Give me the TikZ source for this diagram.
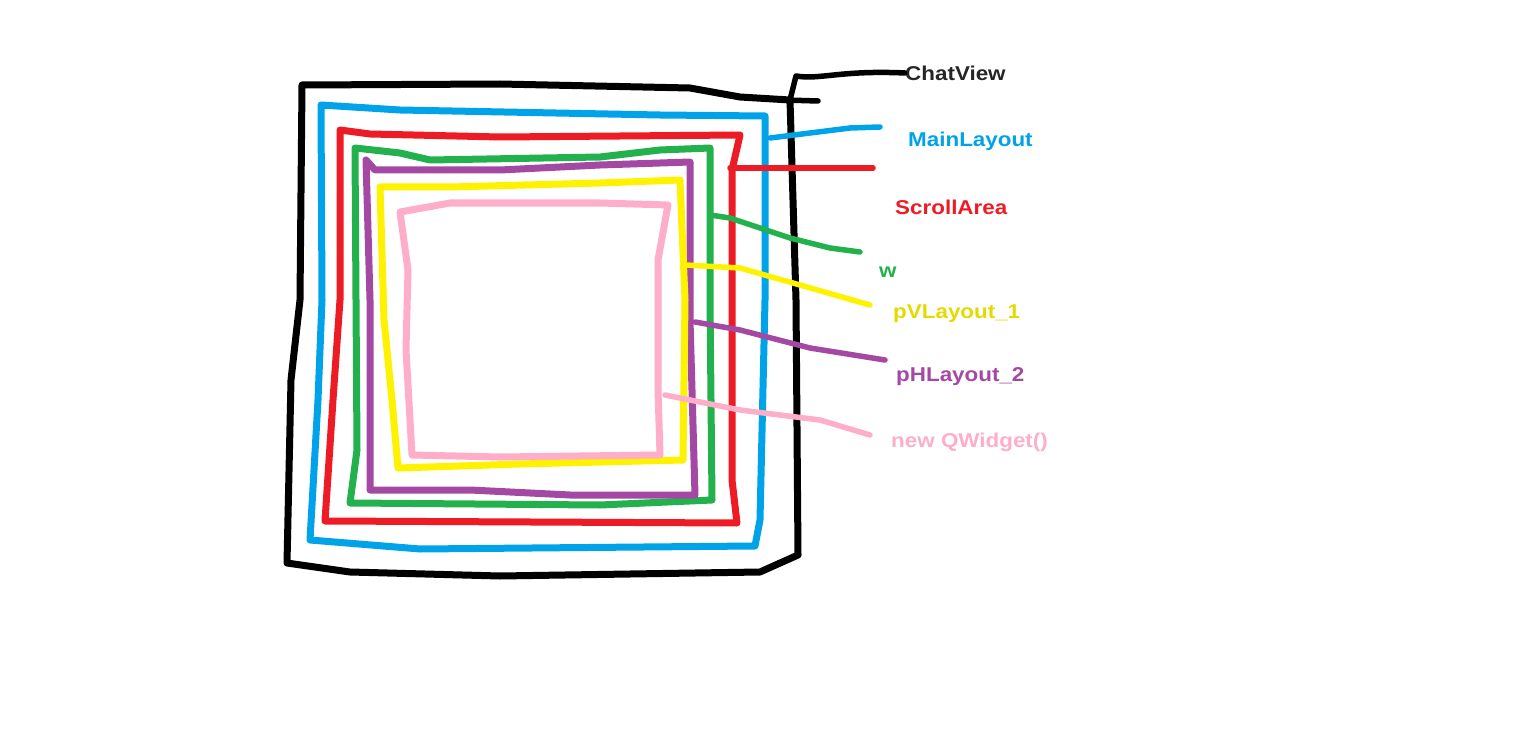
\documentclass[tikz,border=0pt]{standalone}
\usepackage{fontspec}
\setmainfont{Liberation Sans}
\definecolor{cblue}{HTML}{00A2E8}
\definecolor{cred}{HTML}{ED1C24}
\definecolor{cgreen}{HTML}{22B14C}
\definecolor{cpurple}{HTML}{A349A4}
\definecolor{cyellow}{HTML}{FFF200}
\definecolor{cpink}{HTML}{FFAEC9}
\tikzset{pen/.style={line width=7pt,line join=round,line cap=round},
lead/.style={pen,line width=5.5pt},
lab/.style={anchor=west,font=\bfseries\fontsize{20}{22}\selectfont,inner sep=0pt,xscale=1.12}}
\begin{document}
\begin{tikzpicture}[x=1pt,y=-1pt]
\useasboundingbox (0,0) rectangle (1535,749);
% boxes
\draw[pen,black] (302,85) -- (500,84) -- (690,88) -- (740,97) -- (790,100) -- (796,300) -- (798,555) -- (760,572) -- (500,576) -- (350,572) -- (287,563) -- (291,380) -- (300,300) -- (302,85) -- cycle;
\draw[pen,cblue] (321,105) -- (400,110) -- (660,115) -- (765,116) -- (765,300) -- (760,520) -- (755,546) -- (420,549) -- (310,540) -- (318,400) -- (322,300) -- cycle;
\draw[pen,cred] (340,130) -- (370,134) -- (500,137) -- (740,135) -- (732,170) -- (732,480) -- (737,523) -- (325,521) -- (333,400) -- (340,300) -- cycle;
\draw[pen,cgreen] (355,148) -- (400,153) -- (430,160) -- (600,157) -- (660,150) -- (710,148) -- (710,300) -- (712,500) -- (600,505) -- (350,503) -- (357,450) -- (356,300) -- cycle;
\draw[pen,cpurple] (366,160) -- (375,170) -- (500,170) -- (600,165) -- (690,162) -- (690,320) -- (695,495) -- (570,495) -- (470,490) -- (370,490) -- (370,300) -- cycle;
\draw[pen,cyellow] (380,187) -- (450,187) -- (600,183) -- (680,180) -- (685,300) -- (683,460) -- (520,464) -- (398,468) -- (392,400) -- (384,320) -- cycle;
\draw[pen,cpink] (400,212) -- (450,203) -- (600,203) -- (668,205) -- (658,260) -- (658,390) -- (660,455) -- (500,457) -- (412,455) -- (406,350) -- (408,270) -- cycle;
% labels
\node[lab,text=black!85] (chat) at (905,73) {ChatView};
\node[lab,text=cblue] (main) at (908,141) {MainLayout};
\node[lab,text=cred] (scroll) at (895,207) {ScrollArea};
\node[lab,text=cgreen] (w) at (879,272) {w};
\node[lab,text=cyellow!90!black] (pv) at (893,314) {pVLayout\_1};
\node[lab,text=cpurple] (ph) at (896,377) {pHLayout\_2};
\node[lab,text=cpink] (qw) at (891,442) {new QWidget()};
% leaders
\draw[lead,black] (790,100) -- (796,76) .. controls (820,80) and (840,70) .. (chat.west);
\draw[lead,black] (785,100) -- (818,101);
\draw[lead,cblue] (770,138) -- (850,128) -- (880,127);
\draw[lead,cred] (730,168) -- (873,168);
\draw[lead,cgreen] (710,215) -- (730,218) -- (790,238) -- (830,248) -- (860,252);
\draw[lead,cyellow] (685,265) -- (740,268) -- (800,285) -- (870,305);
\draw[lead,cpurple] (695,322) -- (740,330) -- (810,348) -- (885,360);
\draw[lead,cpink] (665,395) -- (740,410) -- (820,420) -- (870,435);
\end{tikzpicture}
\end{document}
